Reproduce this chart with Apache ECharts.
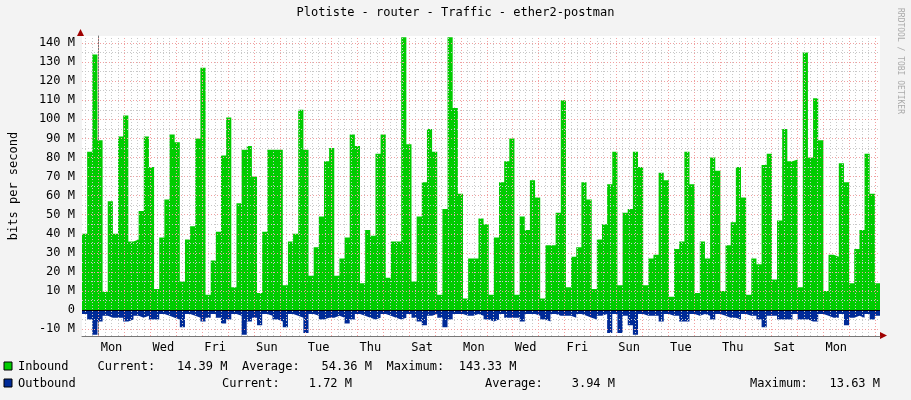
<!DOCTYPE html>
<html><head><meta charset="utf-8">
<script src="https://cdn.jsdelivr.net/npm/echarts@6/dist/echarts.min.js"></script>
<style>html,body{margin:0;padding:0;background:#f3f3f3}#c{width:911px;height:400px}</style>
</head><body><div id="c"></div>
<script>
const dayLabels = ['Mon','Wed','Fri','Sun','Tue','Thu','Sat','Mon','Wed','Fri','Sun','Tue','Thu','Sat','Mon'];
const yTickLabels = ['-10 M','0','10 M','20 M','30 M','40 M','50 M','60 M','70 M','80 M','90 M','100 M','110 M','120 M','130 M','140 M'];
const inbound = [40,83,134,89,9.5,57,40,91,102,36,37,52,91,75,11,38,58,92,88,15,37,44,90,127,8,26,41,81,101,12,56,84,86,70,9,41,84,84,84,13,36,40,105,84,18,33,49,78,85,18,
27,38,92,86,14,42,39,82,92,17,36,36,143,87,15,49,67,95,83,8,53,143,106,61,6,27,27,48,45,8,38,67,78,90,8,49,42,68,59,6,34,34,51,110,12,28,33,67,58,11,37,45,66,
83,13,51,53,83,75,13,27,29,72,68,7,32,36,83,66,9,36,27,80,73,10,34,46,75,59,8,27,24,76,82,16,47,95,78,79,12,135,80,111,89,10,29,28,77,67,14,32,42,82,61,14];
const outbound = [-2,-5,-13,-6,-3,-4,-4,-4,-6,-5,-3,-4,-3,-5,-5,-2,-3,-4,-5,-9,-2,-3,-4,-6,-4,-2,-4,-7,-5,-2,-3,-13,-6,-4,-8,-2,-3,-5,-6,-9,-2,-3,-4,-12,-2,-3,-5,-4,
-4,-3,-4,-7,-5,-2,-3,-4,-5,-4,-2,-3,-4,-5,-4,-2,-4,-6,-8,-3,-2,-4,-9,-5,-2,-2,-3,-3,-2,-3,-5,-6,-5,-2,-4,-4,-4,-6,-2,-2,-3,-5,-6,-2,-3,-3,-3,-4,-2,-3,-4,-5,
-3,-2,-12,-2,-12,-3,-8,-13,-2,-3,-3,-3,-6,-2,-3,-3,-6,-6,-2,-3,-2,-3,-5,-2,-3,-4,-4,-5,-2,-3,-3,-5,-9,-3,-3,-5,-5,-5,-2,-5,-5,-6,-6,-2,-3,-4,-4,-2,-8,-4,-3,-4,-2,-5,-3];

const XMIN=-0.64, XMAX=30.19, YMIN=-13.6e6, YMAX=143.7e6;
const n=Math.min(inbound.length,outbound.length);
const w=(XMAX-XMIN)/n;
function mk(arr){const d=[];for(let i=0;i<n;i++)d.push([XMIN+i*w,arr[i]*1e6]);d.push([XMAX,arr[n-1]*1e6]);return d;}
const mono='DejaVu Sans Mono';
const vMinor=[],vMajor=[],hMinor=[],hMajor=[];
for(let d=0;d<=30;d++){vMajor.push({xAxis:d});}
for(let d=-0.5;d<=30;d+=0.25){if(d%1!==0&&d>XMIN)vMinor.push({xAxis:d});}
for(let v=-10;v<=140;v+=10)hMajor.push({yAxis:v*1e6});
for(let v=-5;v<=140;v+=10)hMinor.push({yAxis:v*1e6});
const chart=echarts.init(document.getElementById('c'));
chart.setOption({
 backgroundColor:'#f3f3f3',animation:false,
 grid:{left:80.7,right:31,top:36,bottom:64,show:true,backgroundColor:'#ffffff',borderWidth:0},
 xAxis:{type:'value',min:XMIN,max:XMAX,
  axisLine:{show:true,onZero:false,lineStyle:{color:'#777'}},
  splitLine:{show:false},
  axisTick:{show:false},
  axisLabel:{customValues:dayLabels.map((_,i)=>0.5+2*i),formatter:(v)=>dayLabels[Math.round((v-0.5)/2)],
   fontFamily:mono,fontSize:12,color:'#000',margin:6}},
 yAxis:{type:'value',min:YMIN,max:YMAX,
  axisLine:{show:true,lineStyle:{color:'#777'}},splitLine:{show:false},axisTick:{show:false},
  axisLabel:{customValues:yTickLabels.map((_,i)=>(i-1)*10e6),formatter:(v)=>yTickLabels[Math.round(v/10e6)+1],
   fontFamily:mono,fontSize:12,color:'#000',margin:7},
  name:'bits per second',nameLocation:'middle',nameGap:62,nameTextStyle:{fontFamily:mono,fontSize:12,color:'#000'}},
 series:[
  {type:'line',step:'end',data:mk(inbound),symbol:'none',lineStyle:{width:0},areaStyle:{color:'#00CC00',opacity:1},z:2},
  {type:'line',step:'end',data:mk(outbound),symbol:'none',lineStyle:{width:0},areaStyle:{color:'#002A97',opacity:1},z:2},
  {type:'line',data:[],z:3,markLine:{silent:true,symbol:'none',label:{show:false},
   lineStyle:{color:'#c8c8c8',type:[1,2],width:1},data:vMinor.concat(hMinor)}},
  {type:'line',data:[],z:4,markLine:{silent:true,symbol:'none',label:{show:false},
   lineStyle:{color:'#f0a0a0',type:[1,2],width:1},data:vMajor.concat(hMajor)}},
  {type:'line',data:[],z:5,markLine:{silent:true,symbol:'none',label:{show:false},
   lineStyle:{color:'#000',width:1,type:'solid'},data:[{yAxis:0}]}}
 ],
 graphic:[
  {type:'text',left:'center',top:7,style:{text:'Plotiste - router - Traffic - ether2-postman',font:'12px '+mono,fill:'#000'}},
  {type:'text',x:904,y:8,rotation:-Math.PI/2,style:{text:'RRDTOOL / TOBI OETIKER',font:'8px '+mono,fill:'#aaa'}},
  {type:'polygon',shape:{points:[[77,36],[84,36],[80.5,29]]},style:{fill:'#a00000'}},
  {type:'polygon',shape:{points:[[880,332],[880,339],[887,335.5]]},style:{fill:'#a00000'}},
  {type:'rect',shape:{x:4,y:362,width:8,height:8},style:{fill:'#00CC00',stroke:'#000',lineWidth:1}},
  {type:'rect',shape:{x:4,y:379,width:8,height:8},style:{fill:'#002A97',stroke:'#000',lineWidth:1}},
  {type:'text',x:18,y:361,style:{text:'Inbound    Current:   14.39 M  Average:   54.36 M  Maximum:  143.33 M',font:'12px '+mono,fill:'#000'}},
  {type:'text',x:18,y:378,style:{text:'Outbound',font:'12px '+mono,fill:'#000'}},
  {type:'text',x:222,y:378,style:{text:'Current:    1.72 M',font:'12px '+mono,fill:'#000'}},
  {type:'text',x:485,y:378,style:{text:'Average:    3.94 M',font:'12px '+mono,fill:'#000'}},
  {type:'text',x:750,y:378,style:{text:'Maximum:   13.63 M',font:'12px '+mono,fill:'#000'}}
 ]
});
</script></body></html>
